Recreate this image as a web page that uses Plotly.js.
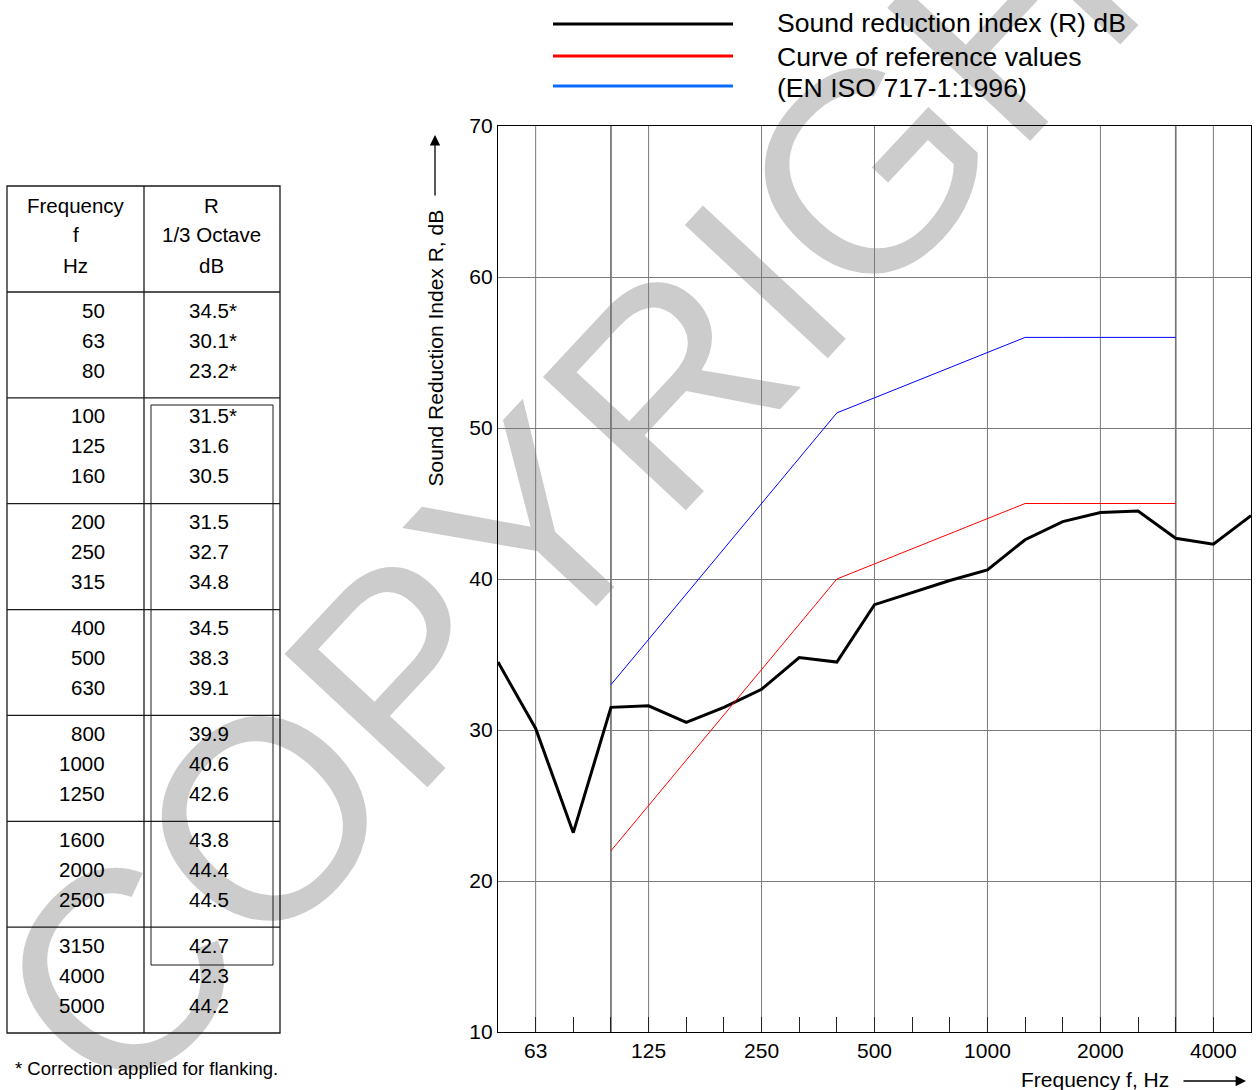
<!DOCTYPE html>
<html>
<head>
<meta charset="utf-8">
<script src="https://cdn.plot.ly/plotly-3.0.1.min.js"></script>
<style>
html,body{margin:0;padding:0;background:#fff;}
#chart{width:1256px;height:1090px;}
</style>
</head>
<body>
<div id="chart"></div>
<script>
// ---------------- DATA ----------------
const freqs = ['50','63','80','100','125','160','200','250','315','400','500','630','800','1000','1250','1600','2000','2500','3150','4000','5000'];
const rValues = [34.5,30.1,23.2,31.5,31.6,30.5,31.5,32.7,34.8,34.5,38.3,39.1,39.9,40.6,42.6,43.8,44.4,44.5,42.7,42.3,44.2];
const flankingCorrected = [true,true,true,true,false,false,false,false,false,false,false,false,false,false,false,false,false,false,false,false,false];
const refFreqs = ['100','125','160','200','250','315','400','500','630','800','1000','1250','1600','2000','2500','3150'];
const refCurve = [33,36,39,42,45,48,51,52,53,54,55,56,56,56,56,56];
const refShifted = [22,25,28,31,34,37,40,41,42,43,44,45,45,45,45,45];
const tickLabelFreqs = ['63','125','250','500','1000','2000','4000'];
const gridFreqs = ['63','100','125','250','500','1000','2000','3150','4000'];
const thickGridFreqs = ['100','3150'];
const yTicks = [10,20,30,40,50,60,70];
const legendNames = ['Sound reduction index (R) dB','Curve of reference values','(EN ISO 717-1:1996)'];
const tableHeaderFreq = ['Frequency','f','Hz'];
const tableHeaderR = ['R','1/3 Octave','dB'];
const footnote = '* Correction applied for flanking.';
const watermark = 'COPYRIGHT';

// ---------------- LAYOUT HELPERS ----------------
const L = 498, R = 1251, T = 126, B = 1032;
const W = R - L, H = B - T;
const PX = x => (x - L) / W;
const PY = y => (B - y) / H;
const FONT = 'Liberation Sans, Arial, Helvetica, sans-serif';

const traces = [
  {x: freqs, y: rValues, type: 'scatter', mode: 'lines', name: legendNames[0],
   line: {color: '#000000', width: 3}, showlegend: false, hoverinfo: 'x+y'},
  {x: refFreqs, y: refShifted, type: 'scatter', mode: 'lines', name: legendNames[1],
   line: {color: '#ff0000', width: 1}, showlegend: false},
  {x: refFreqs, y: refCurve, type: 'scatter', mode: 'lines', name: legendNames[2],
   line: {color: '#0000ff', width: 1}, showlegend: false}
];

const shapes = [];
const annotations = [];

// watermark (below everything)
const wmCx = 605, wmCy = 413;
shapes.push({
  type: 'rect', xref: 'paper', yref: 'paper', layer: 'below',
  x0: PX(wmCx - 5), x1: PX(wmCx + 5), y0: PY(wmCy + 5), y1: PY(wmCy - 5),
  line: {width: 0}, fillcolor: 'rgba(0,0,0,0)',
  label: {text: watermark, textangle: -47, textposition: 'middle center',
          font: {family: FONT, size: 284, color: '#cccccc'}}
});

// vertical grid lines
gridFreqs.forEach(f => {
  const i = freqs.indexOf(f);
  shapes.push({type: 'line', xref: 'x', yref: 'paper', layer: 'below',
    x0: i, x1: i, y0: 0, y1: 1, line: {color: '#7a7a7a', width: 1}});
});
thickGridFreqs.forEach(f => {
  const i = freqs.indexOf(f);
  shapes.push({type: 'line', xref: 'x', yref: 'paper', layer: 'below',
    x0: i, x1: i, y0: 0, y1: 1, line: {color: '#777777', width: 1.6}});
});

// legend (manual, long line samples)
const legendColors = ['#000000', '#ff0000', '#0a6cff'];
const legendLineY = [24, 56, 86];
const legendTextY = [23, 57, 88];
legendNames.forEach((n, k) => {
  shapes.push({type: 'line', xref: 'paper', yref: 'paper',
    x0: PX(553), x1: PX(733), y0: PY(legendLineY[k]), y1: PY(legendLineY[k]),
    line: {color: legendColors[k], width: 3}});
  annotations.push({xref: 'paper', yref: 'paper', x: PX(775), y: PY(legendTextY[k]),
    xanchor: 'left', yanchor: 'middle', showarrow: false, text: n,
    font: {family: FONT, size: 26.6, color: '#000'}});
});

// axis title (y) with arrow
annotations.push({xref: 'paper', yref: 'paper', x: PX(435), y: PY(348.5),
  xanchor: 'center', yanchor: 'middle', showarrow: false, textangle: -90,
  text: 'Sound Reduction Index R, dB', font: {family: FONT, size: 21, color: '#000'}});
annotations.push({xref: 'paper', yref: 'paper', x: PX(435), y: PY(135),
  showarrow: true, ax: 0, ay: 62, text: '', arrowhead: 2, arrowsize: 1.6,
  arrowwidth: 1.3, arrowcolor: '#000'});
// axis title (x) with arrow
annotations.push({xref: 'paper', yref: 'paper', x: PX(1019), y: PY(1079),
  xanchor: 'left', yanchor: 'middle', showarrow: false,
  text: 'Frequency f, Hz', font: {family: FONT, size: 21, color: '#000'}});
annotations.push({xref: 'paper', yref: 'paper', x: PX(1246), y: PY(1081),
  showarrow: true, ax: -64, ay: 0, text: '', arrowhead: 2, arrowsize: 1.6,
  arrowwidth: 1.3, arrowcolor: '#000'});

// ---------------- TABLE ----------------
const tL = 7, tR = 280, tMid = 144, tTop = 186, tHead = 292, tBot = 1033;
const groupH = (tBot - tHead) / 7;
const lineStyle = {color: '#1a1a1a', width: 1.3};
shapes.push({type: 'rect', xref: 'paper', yref: 'paper', x0: PX(tL), x1: PX(tR),
  y0: PY(tBot), y1: PY(tTop), line: lineStyle, fillcolor: 'rgba(0,0,0,0)'});
shapes.push({type: 'line', xref: 'paper', yref: 'paper', x0: PX(tMid), x1: PX(tMid),
  y0: PY(tBot), y1: PY(tTop), line: lineStyle});
for (let g = 0; g < 7; g++) {
  const y = tHead + g * groupH;
  shapes.push({type: 'line', xref: 'paper', yref: 'paper', x0: PX(tL), x1: PX(tR),
    y0: PY(y), y1: PY(y), line: lineStyle});
}
// inner box around evaluation range (100 - 3150 Hz)
shapes.push({type: 'rect', xref: 'paper', yref: 'paper', x0: PX(151), x1: PX(273),
  y0: PY(965), y1: PY(405), line: {color: '#1a1a1a', width: 1}, fillcolor: 'rgba(0,0,0,0)'});

const tFont = {family: FONT, size: 20.5, color: '#000'};
tableHeaderFreq.forEach((t, k) => annotations.push({xref: 'paper', yref: 'paper',
  x: PX(75.5), y: PY(205 + 30 * k), xanchor: 'center', yanchor: 'middle', showarrow: false, text: t, font: tFont}));
tableHeaderR.forEach((t, k) => annotations.push({xref: 'paper', yref: 'paper',
  x: PX(211.5), y: PY(205 + 30 * k), xanchor: 'center', yanchor: 'middle', showarrow: false, text: t, font: tFont}));
freqs.forEach((f, i) => {
  const g = Math.floor(i / 3), r = i % 3;
  const y = 310 + g * groupH + r * 30;
  annotations.push({xref: 'paper', yref: 'paper', x: PX(107), y: PY(y),
    xanchor: 'right', yanchor: 'middle', showarrow: false, text: f, font: tFont});
  annotations.push({xref: 'paper', yref: 'paper', x: PX(187), y: PY(y),
    xanchor: 'left', yanchor: 'middle', showarrow: false,
    text: rValues[i].toFixed(1) + (flankingCorrected[i] ? '*' : ''), font: tFont});
});
annotations.push({xref: 'paper', yref: 'paper', x: PX(13), y: PY(1068),
  xanchor: 'left', yanchor: 'middle', showarrow: false, text: footnote,
  font: {family: FONT, size: 18.5, color: '#000'}});

const layout = {
  width: 1256, height: 1090,
  margin: {l: L, r: 1256 - R, t: T, b: 1090 - B, pad: 0},
  paper_bgcolor: '#ffffff', plot_bgcolor: 'rgba(0,0,0,0)',
  font: {family: FONT, size: 21, color: '#000'},
  showlegend: false,
  xaxis: {
    type: 'category', categoryorder: 'array', categoryarray: freqs,
    range: [0, freqs.length - 1], autorange: false,
    tickmode: 'array', tickvals: freqs,
    ticktext: freqs.map(f => tickLabelFreqs.includes(f) ? f : ''),
    ticks: 'inside', ticklen: 15, tickwidth: 1, tickcolor: '#222',
    showgrid: false, zeroline: false,
    showline: true, linecolor: '#000', linewidth: 1.2, mirror: true,
    tickfont: {family: FONT, size: 21, color: '#000'}
  },
  yaxis: {
    range: [10, 70], autorange: false, tickmode: 'array', tickvals: yTicks,
    ticks: '', showgrid: true, gridcolor: '#7a7a7a', gridwidth: 1, zeroline: false,
    showline: true, linecolor: '#000', linewidth: 1.2, mirror: true,
    tickfont: {family: FONT, size: 21, color: '#000'}
  },
  shapes: shapes,
  annotations: annotations
};

Plotly.newPlot('chart', traces, layout, {displayModeBar: false, staticPlot: true});
</script>
</body>
</html>
